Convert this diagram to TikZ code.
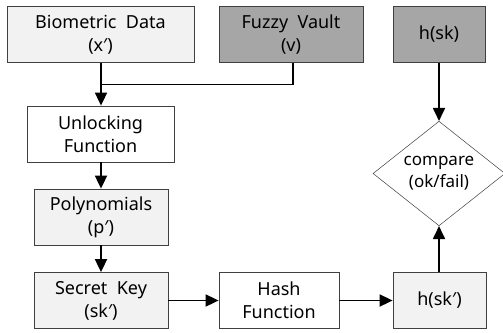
\documentclass[tikz,border=0pt]{standalone}
\usepackage{fontspec}
\setmainfont{Noto Sans}
\usetikzlibrary{arrows.meta,shapes.geometric}
\definecolor{lightbox}{HTML}{F2F2F2}
\definecolor{darkbox}{HTML}{A6A6A6}
\definecolor{edgegray}{HTML}{404040}
\begin{document}
\begin{tikzpicture}[x=1pt,y=-1pt,
  box/.style={draw=edgegray,line width=0.8pt,rectangle,align=center,inner sep=0pt,
    font=\fontsize{18}{23}\selectfont,minimum height=56pt},
  lbox/.style={box,fill=lightbox},
  dbox/.style={box,fill=darkbox},
  wbox/.style={box,fill=white},
  arr/.style={line width=1.8pt,-{Triangle[width=12pt,length=13pt]}},
  ln/.style={line width=1.8pt}]
\useasboundingbox (0,0) rectangle (503,332);
\node[lbox,minimum width=187pt] (bio) at (100.5,34.5) {Biometric\ \ Data\\(x′)};
\node[dbox,minimum width=144pt] (fv) at (291,34.5) {Fuzzy\ \ Vault\\(v)};
\node[dbox,minimum width=92pt] (hsk) at (439,34.5) {h(sk)};
\node[wbox,minimum width=147pt] (unl) at (100.5,134) {Unlocking\\Function};
\node[lbox,minimum width=134pt] (poly) at (101,217) {Polynomials\\(p′)};
\node[lbox,minimum width=134pt] (sk) at (101,300.5) {Secret\ \ Key\\(sk′)};
\node[wbox,minimum width=120pt] (hash) at (279,300.5) {Hash\\Function};
\node[lbox,minimum width=93pt] (hskp) at (439.5,300.5) {h(sk′)};
\node[diamond,draw=edgegray,line width=0.5pt,fill=white,minimum width=132pt,minimum height=85pt,
  inner sep=0pt,align=center,font=\fontsize{17}{22}\selectfont] (cmp) at (439,173.5) {compare\\(ok/fail)};
\coordinate (j) at (101,84.5);
\draw[arr] (bio.south -| j) -- (unl.north -| j);
\draw[ln] (fv.south -| 293,0) |- (j);
\draw[arr] (unl.south -| j) -- (poly.north -| j);
\draw[arr] (poly) -- (sk);
\draw[arr] (sk) -- (hash);
\draw[arr] (hash) -- (hskp);
\draw[arr] (hsk.south -| cmp.north) -- (cmp.north);
\draw[arr] (hskp.north -| cmp.south) -- (cmp.south);
\end{tikzpicture}
\end{document}
